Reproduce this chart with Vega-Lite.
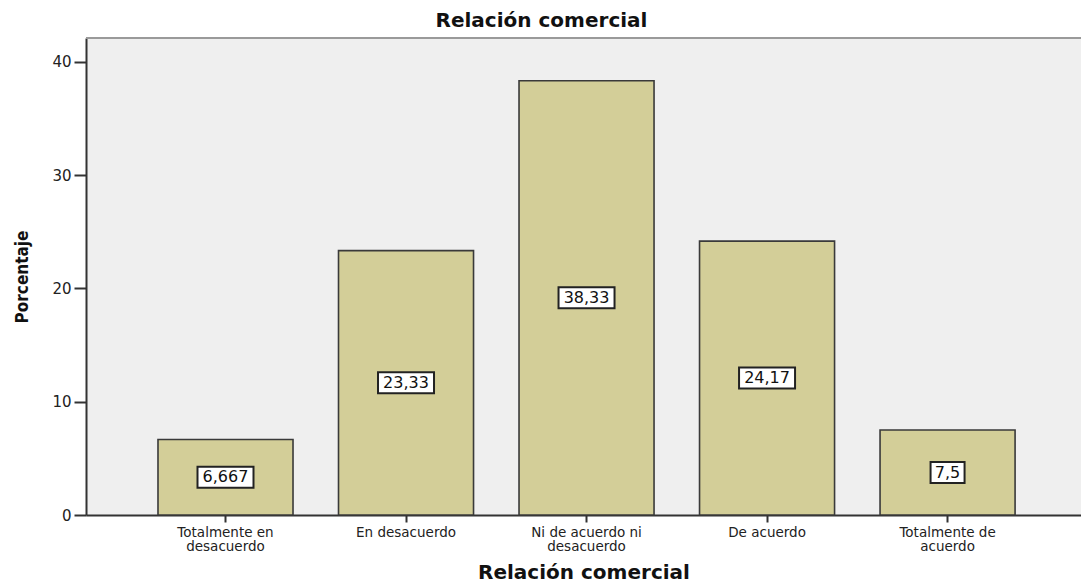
{
  "$schema": "https://vega.github.io/schema/vega-lite/v6.json",
  "width": 995,
  "height": 477,
  "autosize": {"type": "none"},
  "padding": {"left": 86, "top": 38, "right": 0, "bottom": 68},
  "background": "white",
  "config": {
    "locale": {"number": {"decimal": ",", "thousands": ".", "grouping": [3], "currency": ["", " €"]}},
    "view": {"fill": "#efefef", "stroke": null},
    "font": "DejaVu Sans"
  },
  "title": {
    "text": "Relación comercial",
    "font": "DejaVu Sans",
    "fontSize": 20,
    "fontWeight": "bold",
    "color": "#111111",
    "anchor": "middle",
    "dx": -42,
    "offset": 6
  },
  "data": {
    "values": [
      {"categoria": "Totalmente en desacuerdo", "porcentaje": 6.667},
      {"categoria": "En desacuerdo", "porcentaje": 23.33},
      {"categoria": "Ni de acuerdo ni desacuerdo", "porcentaje": 38.33},
      {"categoria": "De acuerdo", "porcentaje": 24.17},
      {"categoria": "Totalmente de acuerdo", "porcentaje": 7.5}
    ]
  },
  "layer": [
    {
      "mark": {"type": "rule", "color": "#9a9a9a", "strokeWidth": 2},
      "encoding": {"y": {"datum": 42.1, "type": "quantitative"}}
    },
    {
      "mark": {"type": "bar", "fill": "#d3ce98", "stroke": "#3a3a3a", "strokeWidth": 1.6},
      "encoding": {
        "x": {
          "field": "categoria",
          "type": "nominal",
          "sort": null,
          "scale": {"paddingInner": 0.252, "paddingOuter": 0.382, "align": 0.522},
          "axis": {
            "title": "Relación comercial",
            "titleFont": "DejaVu Sans",
            "titleFontSize": 20,
            "titleFontWeight": "bold",
            "titleColor": "#111111",
            "titlePadding": 10,
            "labelAngle": 0,
            "labelFont": "DejaVu Sans",
            "labelFontSize": 13.5,
            "labelColor": "#222222",
            "labelLineHeight": 14,
            "labelPadding": 3,
            "labelExpr": "datum.label == 'Totalmente en desacuerdo' ? ['Totalmente en', 'desacuerdo'] : datum.label == 'Ni de acuerdo ni desacuerdo' ? ['Ni de acuerdo ni', 'desacuerdo'] : datum.label == 'Totalmente de acuerdo' ? ['Totalmente de', 'acuerdo'] : datum.label",
            "tickSize": 7,
            "tickWidth": 2,
            "tickColor": "#333333",
            "domainColor": "#333333",
            "domainWidth": 2
          }
        },
        "y": {
          "field": "porcentaje",
          "type": "quantitative",
          "scale": {"domain": [0, 42.1], "nice": false},
          "axis": {
            "title": "Porcentaje",
            "titleFont": "DejaVu Sans Condensed, Liberation Sans, sans-serif",
            "titleFontSize": 17,
            "titleFontWeight": "bold",
            "titleColor": "#111111",
            "titlePadding": 20,
            "values": [0, 10, 20, 30, 40],
            "grid": false,
            "labelFont": "DejaVu Sans",
            "labelFontSize": 15,
            "labelColor": "#222222",
            "labelPadding": 3,
            "tickSize": 12,
            "tickWidth": 2,
            "tickColor": "#333333",
            "domainColor": "#333333",
            "domainWidth": 2
          }
        }
      }
    },
    {
      "transform": [
        {"calculate": "datum.porcentaje / 2", "as": "medio"},
        {"filter": "length(format(datum.porcentaje, '.4~r')) > 3"}
      ],
      "mark": {"type": "point", "shape": "M-1,-0.375H1V0.375H-1Z", "size": 3136, "filled": true, "fill": "white", "stroke": "#222222", "strokeWidth": 2, "opacity": 1},
      "encoding": {
        "x": {"field": "categoria", "type": "nominal", "sort": null},
        "y": {"field": "medio", "type": "quantitative"}
      }
    },
    {
      "transform": [
        {"calculate": "datum.porcentaje / 2", "as": "medio"},
        {"filter": "length(format(datum.porcentaje, '.4~r')) <= 3"}
      ],
      "mark": {"type": "point", "shape": "M-1,-0.618H1V0.618H-1Z", "size": 1156, "filled": true, "fill": "white", "stroke": "#222222", "strokeWidth": 2, "opacity": 1},
      "encoding": {
        "x": {"field": "categoria", "type": "nominal", "sort": null},
        "y": {"field": "medio", "type": "quantitative"}
      }
    },
    {
      "transform": [{"calculate": "datum.porcentaje / 2", "as": "medio"}],
      "mark": {"type": "text", "font": "DejaVu Sans", "fontSize": 16, "color": "#111111"},
      "encoding": {
        "x": {"field": "categoria", "type": "nominal", "sort": null},
        "y": {"field": "medio", "type": "quantitative"},
        "text": {"field": "porcentaje", "type": "quantitative", "format": ".4~r"}
      }
    }
  ]
}
